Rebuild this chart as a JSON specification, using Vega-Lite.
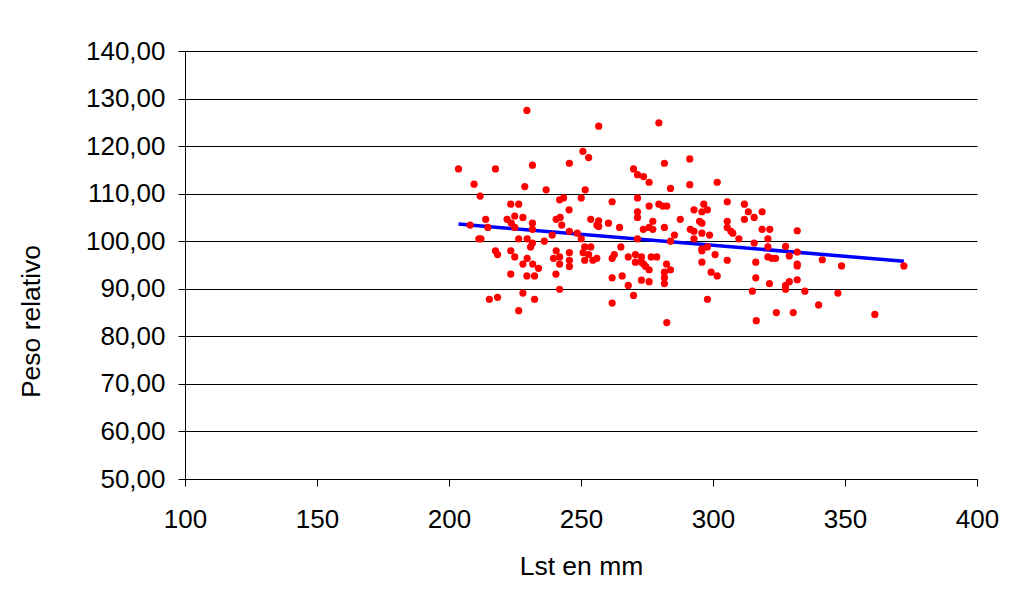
{
  "$schema": "https://vega.github.io/schema/vega-lite/v6.json",
  "width": 792,
  "height": 428,
  "autosize": {"type": "none"},
  "padding": {"left": 185, "top": 51, "right": 35, "bottom": 131},
  "background": "white",
  "config": {
    "font": "Liberation Sans",
    "view": {"stroke": null},
    "axis": {
      "labelFont": "Liberation Sans",
      "titleFont": "Liberation Sans",
      "labelFontSize": 26,
      "titleFontSize": 26.5,
      "labelColor": "#000",
      "titleColor": "#000",
      "titleFontWeight": "normal",
      "domainColor": "#000",
      "tickColor": "#000",
      "gridColor": "#000",
      "gridOpacity": 1,
      "domainWidth": 1,
      "tickWidth": 1,
      "gridWidth": 1,
      "tickSize": 7
    }
  },
  "datasets": {
    "fish": [
      {"lst": 229.5, "peso": 127.5}, {"lst": 256.7, "peso": 124.2}, {"lst": 203.6, "peso": 115.2},
      {"lst": 217.6, "peso": 115.2}, {"lst": 231.6, "peso": 116.0}, {"lst": 250.7, "peso": 118.9},
      {"lst": 252.9, "peso": 117.6}, {"lst": 245.6, "peso": 116.4}, {"lst": 209.5, "peso": 112.0},
      {"lst": 211.8, "peso": 109.5}, {"lst": 228.7, "peso": 111.5}, {"lst": 236.8, "peso": 110.8},
      {"lst": 251.6, "peso": 110.8}, {"lst": 223.4, "peso": 107.8}, {"lst": 226.4, "peso": 107.8},
      {"lst": 241.9, "peso": 108.7}, {"lst": 243.4, "peso": 109.1}, {"lst": 250.1, "peso": 109.1},
      {"lst": 261.8, "peso": 108.3}, {"lst": 245.5, "peso": 106.6}, {"lst": 213.9, "peso": 104.6},
      {"lst": 208.0, "peso": 103.4}, {"lst": 214.7, "peso": 102.9}, {"lst": 222.0, "peso": 104.6},
      {"lst": 224.9, "peso": 105.3}, {"lst": 228.0, "peso": 105.0}, {"lst": 223.6, "peso": 103.8},
      {"lst": 224.9, "peso": 102.9}, {"lst": 231.6, "peso": 103.8}, {"lst": 231.6, "peso": 102.5},
      {"lst": 240.6, "peso": 104.6}, {"lst": 242.1, "peso": 105.0}, {"lst": 242.7, "peso": 103.4},
      {"lst": 253.7, "peso": 104.6}, {"lst": 256.7, "peso": 104.3}, {"lst": 256.7, "peso": 103.1},
      {"lst": 256.0, "peso": 103.4}, {"lst": 260.4, "peso": 103.8}, {"lst": 264.6, "peso": 102.9},
      {"lst": 245.6, "peso": 102.1}, {"lst": 248.6, "peso": 101.7}, {"lst": 239.1, "peso": 101.3},
      {"lst": 250.1, "peso": 100.5}, {"lst": 212.1, "peso": 100.5}, {"lst": 211.3, "peso": 100.5},
      {"lst": 226.4, "peso": 100.5}, {"lst": 229.6, "peso": 100.5}, {"lst": 231.6, "peso": 99.6},
      {"lst": 230.9, "peso": 98.8}, {"lst": 236.1, "peso": 100.0}, {"lst": 251.4, "peso": 98.8},
      {"lst": 253.7, "peso": 98.8}, {"lst": 265.1, "peso": 98.8}, {"lst": 217.6, "peso": 98.0},
      {"lst": 218.4, "peso": 97.2}, {"lst": 223.4, "peso": 98.0}, {"lst": 224.9, "peso": 96.7},
      {"lst": 229.6, "peso": 96.4}, {"lst": 228.0, "peso": 95.2}, {"lst": 231.7, "peso": 95.2},
      {"lst": 233.9, "peso": 94.3}, {"lst": 240.6, "peso": 98.0}, {"lst": 239.6, "peso": 96.4},
      {"lst": 241.9, "peso": 96.7}, {"lst": 241.9, "peso": 95.2}, {"lst": 245.6, "peso": 97.6},
      {"lst": 245.6, "peso": 96.0}, {"lst": 245.6, "peso": 94.7}, {"lst": 250.8, "peso": 97.6},
      {"lst": 252.9, "peso": 97.2}, {"lst": 251.4, "peso": 96.0}, {"lst": 254.5, "peso": 96.0},
      {"lst": 256.0, "peso": 96.4}, {"lst": 261.8, "peso": 96.4}, {"lst": 262.6, "peso": 97.2},
      {"lst": 223.4, "peso": 93.1}, {"lst": 229.5, "peso": 92.7}, {"lst": 232.4, "peso": 92.7},
      {"lst": 240.5, "peso": 93.1}, {"lst": 261.8, "peso": 92.3}, {"lst": 215.3, "peso": 87.8},
      {"lst": 218.4, "peso": 88.2}, {"lst": 228.0, "peso": 89.1}, {"lst": 232.4, "peso": 87.8},
      {"lst": 241.9, "peso": 89.9}, {"lst": 226.4, "peso": 85.4}, {"lst": 261.8, "peso": 87.0},
      {"lst": 279.5, "peso": 124.9}, {"lst": 269.9, "peso": 115.2}, {"lst": 271.4, "peso": 114.0},
      {"lst": 273.7, "peso": 113.6}, {"lst": 275.8, "peso": 112.4}, {"lst": 281.6, "peso": 116.4},
      {"lst": 283.9, "peso": 111.1}, {"lst": 291.2, "peso": 117.3}, {"lst": 291.2, "peso": 111.9},
      {"lst": 301.6, "peso": 112.4}, {"lst": 271.4, "peso": 109.1}, {"lst": 271.4, "peso": 106.2},
      {"lst": 271.4, "peso": 105.0}, {"lst": 275.8, "peso": 107.4}, {"lst": 279.5, "peso": 107.8},
      {"lst": 281.0, "peso": 107.4}, {"lst": 282.5, "peso": 107.4}, {"lst": 273.6, "peso": 102.5},
      {"lst": 275.8, "peso": 102.9}, {"lst": 277.2, "peso": 104.2}, {"lst": 277.2, "peso": 102.5},
      {"lst": 281.6, "peso": 102.9}, {"lst": 287.6, "peso": 104.6}, {"lst": 285.4, "peso": 101.3},
      {"lst": 283.9, "peso": 100.0}, {"lst": 271.4, "peso": 100.5}, {"lst": 292.8, "peso": 106.6},
      {"lst": 295.8, "peso": 106.2}, {"lst": 296.5, "peso": 107.8}, {"lst": 297.9, "peso": 106.6},
      {"lst": 294.9, "peso": 104.2}, {"lst": 295.8, "peso": 103.8}, {"lst": 291.4, "peso": 102.5},
      {"lst": 292.8, "peso": 102.1}, {"lst": 292.8, "peso": 100.5}, {"lst": 295.8, "peso": 101.7},
      {"lst": 298.7, "peso": 101.3}, {"lst": 305.4, "peso": 108.3}, {"lst": 305.4, "peso": 104.2},
      {"lst": 305.4, "peso": 102.9}, {"lst": 306.8, "peso": 102.1}, {"lst": 307.5, "peso": 101.7},
      {"lst": 309.8, "peso": 100.5}, {"lst": 311.9, "peso": 107.8}, {"lst": 313.4, "peso": 106.2},
      {"lst": 311.9, "peso": 104.6}, {"lst": 315.6, "peso": 105.0}, {"lst": 318.6, "peso": 106.2},
      {"lst": 318.6, "peso": 102.5}, {"lst": 321.5, "peso": 102.5}, {"lst": 320.8, "peso": 100.5},
      {"lst": 315.6, "peso": 99.6}, {"lst": 320.8, "peso": 98.8}, {"lst": 267.9, "peso": 96.7},
      {"lst": 270.6, "peso": 97.2}, {"lst": 270.6, "peso": 95.6}, {"lst": 272.9, "peso": 96.7},
      {"lst": 272.9, "peso": 95.6}, {"lst": 273.7, "peso": 95.2}, {"lst": 274.5, "peso": 94.7},
      {"lst": 275.8, "peso": 94.0}, {"lst": 276.6, "peso": 96.7}, {"lst": 278.7, "peso": 96.7},
      {"lst": 282.4, "peso": 95.2}, {"lst": 283.9, "peso": 94.0}, {"lst": 281.6, "peso": 93.5},
      {"lst": 281.6, "peso": 92.3}, {"lst": 281.6, "peso": 91.1}, {"lst": 295.8, "peso": 98.4},
      {"lst": 295.8, "peso": 98.0}, {"lst": 297.9, "peso": 98.8}, {"lst": 300.8, "peso": 97.2},
      {"lst": 295.8, "peso": 95.6}, {"lst": 299.3, "peso": 93.5}, {"lst": 301.6, "peso": 92.7},
      {"lst": 305.4, "peso": 96.0}, {"lst": 316.2, "peso": 95.6}, {"lst": 316.2, "peso": 92.3},
      {"lst": 265.6, "peso": 92.7}, {"lst": 267.9, "peso": 90.7}, {"lst": 269.9, "peso": 88.6},
      {"lst": 272.9, "peso": 91.8}, {"lst": 275.8, "peso": 91.5}, {"lst": 314.9, "peso": 89.5},
      {"lst": 321.4, "peso": 91.1}, {"lst": 297.9, "peso": 87.8}, {"lst": 282.5, "peso": 82.9},
      {"lst": 316.4, "peso": 83.3}, {"lst": 324.0, "peso": 85.0}, {"lst": 320.8, "peso": 96.7},
      {"lst": 322.3, "peso": 96.4}, {"lst": 323.7, "peso": 96.4}, {"lst": 331.9, "peso": 102.2},
      {"lst": 327.5, "peso": 98.9}, {"lst": 328.9, "peso": 96.9}, {"lst": 331.9, "peso": 97.7},
      {"lst": 331.9, "peso": 95.2}, {"lst": 331.9, "peso": 94.8}, {"lst": 341.4, "peso": 96.1},
      {"lst": 348.7, "peso": 94.8}, {"lst": 372.3, "peso": 94.8}, {"lst": 327.5, "peso": 90.7},
      {"lst": 327.5, "peso": 89.9}, {"lst": 328.9, "peso": 91.5}, {"lst": 331.9, "peso": 91.9},
      {"lst": 334.8, "peso": 89.5}, {"lst": 347.3, "peso": 89.1}, {"lst": 340.0, "peso": 86.6},
      {"lst": 330.4, "peso": 85.0}, {"lst": 361.3, "peso": 84.6}
    ],
    "trend": [
      {"lst": 203.6, "peso": 103.6},
      {"lst": 372.3, "peso": 95.8}
    ]
  },
  "layer": [
    {
      "data": {"name": "trend"},
      "mark": {"type": "line", "color": "#0000FF", "strokeWidth": 3.5, "clip": true},
      "encoding": {
        "x": {"field": "lst", "type": "quantitative"},
        "y": {"field": "peso", "type": "quantitative"}
      }
    },
    {
      "data": {"name": "fish"},
      "mark": {"type": "circle", "color": "#FF0000", "opacity": 1, "size": 52},
      "encoding": {
        "x": {
          "field": "lst",
          "type": "quantitative",
          "scale": {"domain": [100, 400], "nice": false, "zero": false},
          "axis": {
            "title": "Lst en mm",
            "values": [100, 150, 200, 250, 300, 350, 400],
            "grid": false,
            "labelBaseline": "alphabetic",
            "labelPadding": 41,
            "labelFlush": false,
            "labelOverlap": false,
            "titleBaseline": "alphabetic",
            "titleY": 95
          }
        },
        "y": {
          "field": "peso",
          "type": "quantitative",
          "scale": {"domain": [50, 140], "nice": false, "zero": false},
          "axis": {
            "title": "Peso relativo",
            "values": [50, 60, 70, 80, 90, 100, 110, 120, 130, 140],
            "grid": true,
            "format": ".2f",
            "labelExpr": "replace(datum.label, '.', ',')",
            "labelPadding": 13,
            "labelFlush": false,
            "labelOverlap": false,
            "titleAngle": -90,
            "titleAlign": "center",
            "titleBaseline": "middle",
            "titleX": -154,
            "titleY": 270
          }
        }
      }
    }
  ]
}
